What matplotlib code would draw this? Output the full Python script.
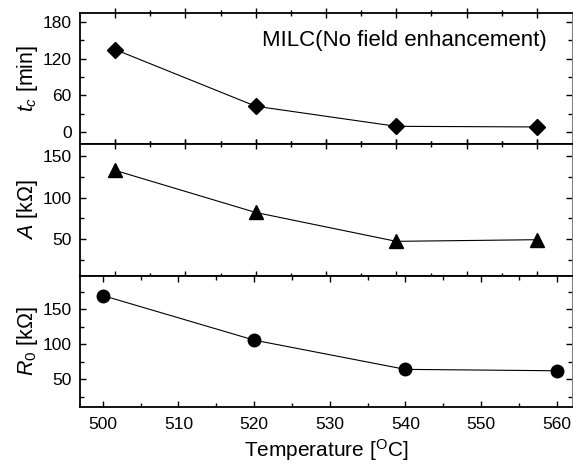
import matplotlib.pyplot as plt
import numpy as np

plt.rcParams['font.family'] = ['Liberation Sans', 'DejaVu Sans']
plt.rcParams['mathtext.fontset'] = 'custom'
plt.rcParams['mathtext.rm'] = 'Liberation Sans'
plt.rcParams['mathtext.it'] = 'Liberation Sans:italic'

# data
temp = [500, 520, 540, 560]
tc = [135, 42, 9, 8]
amp = [133, 82, 47, 49]
r0 = [170, 106, 64, 62]

fig = plt.figure(figsize=(5.73, 4.66), dpi=100)
left, right = 80 / 573, 572 / 573
tops = [13, 144, 276, 407]

axes = []
for i in range(3):
    y0 = 1 - tops[i + 1] / 466
    h = (tops[i + 1] - tops[i]) / 466
    axes.append(fig.add_axes([left, y0, right - left, h]))

ax1, ax2, ax3 = axes

ax1.plot(temp, tc, '-', color='black', lw=0.8, marker='D', ms=8.5, mfc='black', mec='black')
ax2.plot(temp, amp, '-', color='black', lw=0.8, marker='^', ms=10, mfc='black', mec='black')
ax3.plot(temp, r0, '-', color='black', lw=0.8, marker='o', ms=9, mfc='black', mec='black')

# top two panels have their own x scale
for ax in (ax1, ax2):
    ax.set_xlim(495, 565)
ax3.set_xlim(497, 562)

ax1.set_ylim(-20, 195)
ax1.set_yticks([0, 60, 120, 180])
ax1.set_yticks([30, 90, 150], minor=True)
ax2.set_ylim(5, 165)
ax2.set_yticks([50, 100, 150])
ax2.set_yticks([25, 75, 125], minor=True)
ax3.set_ylim(10, 198)
ax3.set_yticks([50, 100, 150])
ax3.set_yticks([25, 75, 125, 175], minor=True)

for ax in axes:
    ax.set_xticks(np.arange(500, 561, 10))
    ax.set_xticks(np.arange(505, 560, 10), minor=True)
    for s in ['left', 'top', 'bottom']:
        ax.spines[s].set_linewidth(1.3)
    ax.spines['right'].set_linewidth(0.8)
    ax.spines['right'].set_color('gray')
    ax.tick_params(axis='y', which='major', direction='in', length=4, width=1.0,
                   labelsize=12.5, right=True, pad=6)
    ax.tick_params(axis='y', which='minor', direction='in', length=3, width=1.0, right=True)
    ax.tick_params(axis='x', labelsize=12.5)

for ax in (ax1, ax2):
    ax.tick_params(axis='x', which='major', direction='inout', length=7, width=1.0,
                   top=True, labelbottom=False)
    ax.tick_params(axis='x', which='minor', direction='inout', length=4, width=1.0, top=True)
ax3.tick_params(axis='x', which='major', direction='in', length=4, width=1.0, top=True, pad=7)
ax3.tick_params(axis='x', which='minor', direction='in', length=3, width=1.0, top=True)

ax1.set_ylabel('$t_c$ [min]', fontsize=15.5, labelpad=2)
ax2.set_ylabel('$A$ [k\u03a9]', fontsize=15.5, labelpad=2)
ax3.set_ylabel('$R_0$ [k\u03a9]', fontsize=15.5, labelpad=2)
ax3.set_xlabel('Temperature [$^{\\mathrm{O}}$C]', fontsize=15, labelpad=4)
fig.align_ylabels(axes)

ax1.text(0.948, 0.79, 'MILC(No field enhancement)', transform=ax1.transAxes,
         ha='right', va='center', fontsize=16)

plt.savefig('out.png', dpi=100)
